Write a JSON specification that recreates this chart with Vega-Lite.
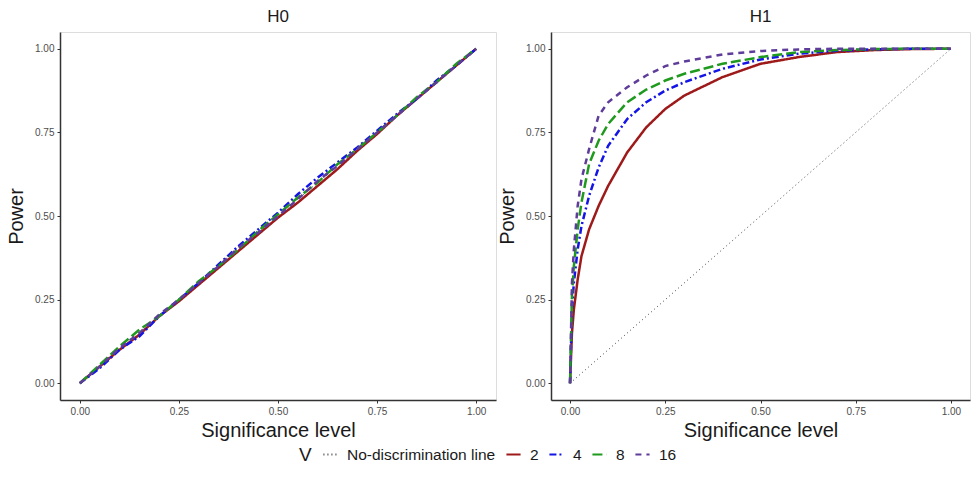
{
  "$schema": "https://vega.github.io/schema/vega-lite/v6.json",
  "padding": {"left": 6, "top": 7, "right": 0, "bottom": 0},
  "background": "white",
  "datasets": {
    "curves": [
      {"panel": "H0", "V": "No-discrimination line", "x": 0, "y": 0},
      {"panel": "H0", "V": "No-discrimination line", "x": 1, "y": 1},
      {"panel": "H1", "V": "No-discrimination line", "x": 0, "y": 0},
      {"panel": "H1", "V": "No-discrimination line", "x": 1, "y": 1},

      {"panel": "H0", "V": "2", "x": 0, "y": 0},
      {"panel": "H0", "V": "2", "x": 0.05, "y": 0.05},
      {"panel": "H0", "V": "2", "x": 0.1, "y": 0.1},
      {"panel": "H0", "V": "2", "x": 0.15, "y": 0.145},
      {"panel": "H0", "V": "2", "x": 0.2, "y": 0.2},
      {"panel": "H0", "V": "2", "x": 0.25, "y": 0.245},
      {"panel": "H0", "V": "2", "x": 0.3, "y": 0.295},
      {"panel": "H0", "V": "2", "x": 0.35, "y": 0.345},
      {"panel": "H0", "V": "2", "x": 0.4, "y": 0.395},
      {"panel": "H0", "V": "2", "x": 0.45, "y": 0.445},
      {"panel": "H0", "V": "2", "x": 0.5, "y": 0.495},
      {"panel": "H0", "V": "2", "x": 0.55, "y": 0.54},
      {"panel": "H0", "V": "2", "x": 0.6, "y": 0.59},
      {"panel": "H0", "V": "2", "x": 0.65, "y": 0.64},
      {"panel": "H0", "V": "2", "x": 0.7, "y": 0.695},
      {"panel": "H0", "V": "2", "x": 0.75, "y": 0.745},
      {"panel": "H0", "V": "2", "x": 0.8, "y": 0.8},
      {"panel": "H0", "V": "2", "x": 0.85, "y": 0.85},
      {"panel": "H0", "V": "2", "x": 0.9, "y": 0.9},
      {"panel": "H0", "V": "2", "x": 0.95, "y": 0.95},
      {"panel": "H0", "V": "2", "x": 1, "y": 1},

      {"panel": "H0", "V": "4", "x": 0, "y": 0},
      {"panel": "H0", "V": "4", "x": 0.05, "y": 0.045},
      {"panel": "H0", "V": "4", "x": 0.1, "y": 0.1},
      {"panel": "H0", "V": "4", "x": 0.15, "y": 0.14},
      {"panel": "H0", "V": "4", "x": 0.2, "y": 0.2},
      {"panel": "H0", "V": "4", "x": 0.25, "y": 0.25},
      {"panel": "H0", "V": "4", "x": 0.3, "y": 0.3},
      {"panel": "H0", "V": "4", "x": 0.35, "y": 0.355},
      {"panel": "H0", "V": "4", "x": 0.4, "y": 0.41},
      {"panel": "H0", "V": "4", "x": 0.45, "y": 0.46},
      {"panel": "H0", "V": "4", "x": 0.5, "y": 0.51},
      {"panel": "H0", "V": "4", "x": 0.55, "y": 0.565},
      {"panel": "H0", "V": "4", "x": 0.6, "y": 0.615},
      {"panel": "H0", "V": "4", "x": 0.65, "y": 0.66},
      {"panel": "H0", "V": "4", "x": 0.7, "y": 0.705},
      {"panel": "H0", "V": "4", "x": 0.75, "y": 0.755},
      {"panel": "H0", "V": "4", "x": 0.8, "y": 0.805},
      {"panel": "H0", "V": "4", "x": 0.85, "y": 0.85},
      {"panel": "H0", "V": "4", "x": 0.9, "y": 0.905},
      {"panel": "H0", "V": "4", "x": 0.95, "y": 0.95},
      {"panel": "H0", "V": "4", "x": 1, "y": 1},

      {"panel": "H0", "V": "8", "x": 0, "y": 0},
      {"panel": "H0", "V": "8", "x": 0.05, "y": 0.055},
      {"panel": "H0", "V": "8", "x": 0.1, "y": 0.11},
      {"panel": "H0", "V": "8", "x": 0.15, "y": 0.16},
      {"panel": "H0", "V": "8", "x": 0.2, "y": 0.2},
      {"panel": "H0", "V": "8", "x": 0.25, "y": 0.25},
      {"panel": "H0", "V": "8", "x": 0.3, "y": 0.305},
      {"panel": "H0", "V": "8", "x": 0.35, "y": 0.35},
      {"panel": "H0", "V": "8", "x": 0.4, "y": 0.4},
      {"panel": "H0", "V": "8", "x": 0.45, "y": 0.455},
      {"panel": "H0", "V": "8", "x": 0.5, "y": 0.505},
      {"panel": "H0", "V": "8", "x": 0.55, "y": 0.555},
      {"panel": "H0", "V": "8", "x": 0.6, "y": 0.6},
      {"panel": "H0", "V": "8", "x": 0.65, "y": 0.655},
      {"panel": "H0", "V": "8", "x": 0.7, "y": 0.7},
      {"panel": "H0", "V": "8", "x": 0.75, "y": 0.75},
      {"panel": "H0", "V": "8", "x": 0.8, "y": 0.8},
      {"panel": "H0", "V": "8", "x": 0.85, "y": 0.855},
      {"panel": "H0", "V": "8", "x": 0.9, "y": 0.9},
      {"panel": "H0", "V": "8", "x": 0.95, "y": 0.955},
      {"panel": "H0", "V": "8", "x": 1, "y": 1},

      {"panel": "H0", "V": "16", "x": 0, "y": 0},
      {"panel": "H0", "V": "16", "x": 0.05, "y": 0.05},
      {"panel": "H0", "V": "16", "x": 0.1, "y": 0.105},
      {"panel": "H0", "V": "16", "x": 0.15, "y": 0.15},
      {"panel": "H0", "V": "16", "x": 0.2, "y": 0.205},
      {"panel": "H0", "V": "16", "x": 0.25, "y": 0.25},
      {"panel": "H0", "V": "16", "x": 0.3, "y": 0.3},
      {"panel": "H0", "V": "16", "x": 0.35, "y": 0.35},
      {"panel": "H0", "V": "16", "x": 0.4, "y": 0.405},
      {"panel": "H0", "V": "16", "x": 0.45, "y": 0.45},
      {"panel": "H0", "V": "16", "x": 0.5, "y": 0.5},
      {"panel": "H0", "V": "16", "x": 0.55, "y": 0.55},
      {"panel": "H0", "V": "16", "x": 0.6, "y": 0.605},
      {"panel": "H0", "V": "16", "x": 0.65, "y": 0.65},
      {"panel": "H0", "V": "16", "x": 0.7, "y": 0.7},
      {"panel": "H0", "V": "16", "x": 0.75, "y": 0.75},
      {"panel": "H0", "V": "16", "x": 0.8, "y": 0.8},
      {"panel": "H0", "V": "16", "x": 0.85, "y": 0.85},
      {"panel": "H0", "V": "16", "x": 0.9, "y": 0.9},
      {"panel": "H0", "V": "16", "x": 0.95, "y": 0.95},
      {"panel": "H0", "V": "16", "x": 1, "y": 1},

      {"panel": "H1", "V": "2", "x": 0, "y": 0},
      {"panel": "H1", "V": "2", "x": 0.005, "y": 0.15},
      {"panel": "H1", "V": "2", "x": 0.01, "y": 0.22},
      {"panel": "H1", "V": "2", "x": 0.02, "y": 0.31},
      {"panel": "H1", "V": "2", "x": 0.03, "y": 0.38},
      {"panel": "H1", "V": "2", "x": 0.05, "y": 0.46},
      {"panel": "H1", "V": "2", "x": 0.075, "y": 0.53},
      {"panel": "H1", "V": "2", "x": 0.1, "y": 0.59},
      {"panel": "H1", "V": "2", "x": 0.15, "y": 0.69},
      {"panel": "H1", "V": "2", "x": 0.2, "y": 0.765},
      {"panel": "H1", "V": "2", "x": 0.25, "y": 0.82},
      {"panel": "H1", "V": "2", "x": 0.3, "y": 0.86},
      {"panel": "H1", "V": "2", "x": 0.4, "y": 0.915},
      {"panel": "H1", "V": "2", "x": 0.5, "y": 0.955},
      {"panel": "H1", "V": "2", "x": 0.6, "y": 0.975},
      {"panel": "H1", "V": "2", "x": 0.7, "y": 0.99},
      {"panel": "H1", "V": "2", "x": 0.8, "y": 0.996},
      {"panel": "H1", "V": "2", "x": 0.9, "y": 0.999},
      {"panel": "H1", "V": "2", "x": 1, "y": 1},

      {"panel": "H1", "V": "4", "x": 0, "y": 0},
      {"panel": "H1", "V": "4", "x": 0.005, "y": 0.22},
      {"panel": "H1", "V": "4", "x": 0.01, "y": 0.3},
      {"panel": "H1", "V": "4", "x": 0.02, "y": 0.4},
      {"panel": "H1", "V": "4", "x": 0.03, "y": 0.47},
      {"panel": "H1", "V": "4", "x": 0.05, "y": 0.56},
      {"panel": "H1", "V": "4", "x": 0.075, "y": 0.645},
      {"panel": "H1", "V": "4", "x": 0.1, "y": 0.71},
      {"panel": "H1", "V": "4", "x": 0.15, "y": 0.79},
      {"panel": "H1", "V": "4", "x": 0.2, "y": 0.84},
      {"panel": "H1", "V": "4", "x": 0.25, "y": 0.875},
      {"panel": "H1", "V": "4", "x": 0.3, "y": 0.9},
      {"panel": "H1", "V": "4", "x": 0.4, "y": 0.94},
      {"panel": "H1", "V": "4", "x": 0.5, "y": 0.968},
      {"panel": "H1", "V": "4", "x": 0.6, "y": 0.985},
      {"panel": "H1", "V": "4", "x": 0.7, "y": 0.994},
      {"panel": "H1", "V": "4", "x": 0.8, "y": 0.998},
      {"panel": "H1", "V": "4", "x": 0.9, "y": 1},
      {"panel": "H1", "V": "4", "x": 1, "y": 1},

      {"panel": "H1", "V": "8", "x": 0, "y": 0},
      {"panel": "H1", "V": "8", "x": 0.005, "y": 0.26},
      {"panel": "H1", "V": "8", "x": 0.01, "y": 0.35},
      {"panel": "H1", "V": "8", "x": 0.02, "y": 0.46},
      {"panel": "H1", "V": "8", "x": 0.03, "y": 0.54},
      {"panel": "H1", "V": "8", "x": 0.05, "y": 0.655},
      {"panel": "H1", "V": "8", "x": 0.075, "y": 0.725},
      {"panel": "H1", "V": "8", "x": 0.1, "y": 0.775},
      {"panel": "H1", "V": "8", "x": 0.15, "y": 0.84},
      {"panel": "H1", "V": "8", "x": 0.2, "y": 0.878},
      {"panel": "H1", "V": "8", "x": 0.25, "y": 0.905},
      {"panel": "H1", "V": "8", "x": 0.3, "y": 0.925},
      {"panel": "H1", "V": "8", "x": 0.4, "y": 0.955},
      {"panel": "H1", "V": "8", "x": 0.5, "y": 0.975},
      {"panel": "H1", "V": "8", "x": 0.6, "y": 0.99},
      {"panel": "H1", "V": "8", "x": 0.7, "y": 0.996},
      {"panel": "H1", "V": "8", "x": 0.8, "y": 0.999},
      {"panel": "H1", "V": "8", "x": 0.9, "y": 1},
      {"panel": "H1", "V": "8", "x": 1, "y": 1},

      {"panel": "H1", "V": "16", "x": 0, "y": 0},
      {"panel": "H1", "V": "16", "x": 0.005, "y": 0.3},
      {"panel": "H1", "V": "16", "x": 0.01, "y": 0.4},
      {"panel": "H1", "V": "16", "x": 0.02, "y": 0.53},
      {"panel": "H1", "V": "16", "x": 0.03, "y": 0.61},
      {"panel": "H1", "V": "16", "x": 0.05, "y": 0.7},
      {"panel": "H1", "V": "16", "x": 0.075, "y": 0.8},
      {"panel": "H1", "V": "16", "x": 0.1, "y": 0.84},
      {"panel": "H1", "V": "16", "x": 0.15, "y": 0.885},
      {"panel": "H1", "V": "16", "x": 0.2, "y": 0.92},
      {"panel": "H1", "V": "16", "x": 0.25, "y": 0.948},
      {"panel": "H1", "V": "16", "x": 0.3, "y": 0.962},
      {"panel": "H1", "V": "16", "x": 0.4, "y": 0.983},
      {"panel": "H1", "V": "16", "x": 0.5, "y": 0.993},
      {"panel": "H1", "V": "16", "x": 0.6, "y": 0.998},
      {"panel": "H1", "V": "16", "x": 0.7, "y": 1},
      {"panel": "H1", "V": "16", "x": 0.8, "y": 1},
      {"panel": "H1", "V": "16", "x": 0.9, "y": 1},
      {"panel": "H1", "V": "16", "x": 1, "y": 1}
    ]
  },
  "data": {"name": "curves"},
  "spacing": 0,
  "hconcat": [
    {
      "title": "H0",
      "width": 436,
      "height": 368,
      "transform": [{"filter": "datum.panel === 'H0'"}],
      "encoding": {
        "x": {"field": "x", "type": "quantitative", "title": "Significance level",
              "scale": {"domain": [-0.05, 1.05], "nice": false, "zero": false},
              "axis": {"values": [0, 0.25, 0.5, 0.75, 1], "format": ".2f"}},
        "y": {"field": "y", "type": "quantitative", "title": "Power",
              "scale": {"domain": [-0.05, 1.05], "nice": false, "zero": false},
              "axis": {"values": [0, 0.25, 0.5, 0.75, 1], "format": ".2f"}},
        "color": {"field": "V", "type": "nominal", "title": "V",
                  "scale": {"domain": ["No-discrimination line", "2", "4", "8", "16"],
                            "range": ["#444444", "#9E1A1A", "#1414E6", "#1F9A1F", "#5E3C99"]}},
        "strokeDash": {"field": "V", "type": "nominal", "title": "V",
                       "scale": {"domain": ["No-discrimination line", "2", "4", "8", "16"],
                                 "range": [[1, 3], [1, 0], [7, 3, 2, 3], [10, 4], [6, 5]]}},
        "order": {"field": "x", "type": "quantitative"}
      },
      "layer": [
        {"transform": [{"filter": "datum.V === 'No-discrimination line'"}],
         "mark": {"type": "line", "clip": true, "strokeWidth": 1}},
        {"transform": [{"filter": "datum.V !== 'No-discrimination line'"}],
         "mark": {"type": "line", "clip": true, "strokeWidth": 2.5}}
      ]
    },
    {
      "title": "H1",
      "width": 419,
      "height": 368,
      "transform": [{"filter": "datum.panel === 'H1'"}],
      "encoding": {
        "x": {"field": "x", "type": "quantitative", "title": "Significance level",
              "scale": {"domain": [-0.05, 1.05], "nice": false, "zero": false},
              "axis": {"values": [0, 0.25, 0.5, 0.75, 1], "format": ".2f"}},
        "y": {"field": "y", "type": "quantitative", "title": "Power",
              "scale": {"domain": [-0.05, 1.05], "nice": false, "zero": false},
              "axis": {"values": [0, 0.25, 0.5, 0.75, 1], "format": ".2f"}},
        "color": {"field": "V", "type": "nominal", "title": "V",
                  "scale": {"domain": ["No-discrimination line", "2", "4", "8", "16"],
                            "range": ["#444444", "#9E1A1A", "#1414E6", "#1F9A1F", "#5E3C99"]}},
        "strokeDash": {"field": "V", "type": "nominal", "title": "V",
                       "scale": {"domain": ["No-discrimination line", "2", "4", "8", "16"],
                                 "range": [[1, 3], [1, 0], [7, 3, 2, 3], [10, 4], [6, 5]]}},
        "order": {"field": "x", "type": "quantitative"}
      },
      "layer": [
        {"transform": [{"filter": "datum.V === 'No-discrimination line'"}],
         "mark": {"type": "line", "clip": true, "strokeWidth": 1}},
        {"transform": [{"filter": "datum.V !== 'No-discrimination line'"}],
         "mark": {"type": "line", "clip": true, "strokeWidth": 2.5}}
      ]
    }
  ],
  "resolve": {"scale": {"x": "independent", "y": "independent"}},
  "config": {
    "font": "Liberation Sans",
    "view": {"stroke": "#dddddd", "strokeWidth": 1},
    "title": {"fontSize": 17, "fontWeight": "normal", "color": "#1a1a1a", "font": "Liberation Sans", "offset": 6},
    "axis": {
      "grid": false,
      "domainColor": "#333333",
      "domainWidth": 1.5,
      "tickColor": "#333333",
      "tickSize": 3,
      "labelColor": "#4d4d4d",
      "labelFontSize": 10,
      "labelFont": "Liberation Sans",
      "titleFont": "Liberation Sans",
      "titleFont": "Liberation Sans",
      "titleFontSize": 20,
      "titleFontWeight": "normal",
      "titleColor": "#1a1a1a",
      "labelPadding": 3
    },
    "axisX": {"titlePadding": 4},
    "axisY": {"titlePadding": 8},
    "legend": {
      "orient": "bottom",
      "direction": "horizontal",
      "titleOrient": "left",
      "titleFontSize": 19,
      "titleFontWeight": "normal",
      "titleColor": "#1a1a1a",
      "titlePadding": 10,
      "labelFontSize": 15.5,
      "labelColor": "#1a1a1a",
      "labelOffset": 8,
      "symbolType": "stroke",
      "symbolSize": 200,
      "symbolStrokeWidth": 2.2,
      "columnPadding": 6,
      "offset": 5,
      "layout": {"bottom": {"anchor": "middle"}}
    }
  }
}
